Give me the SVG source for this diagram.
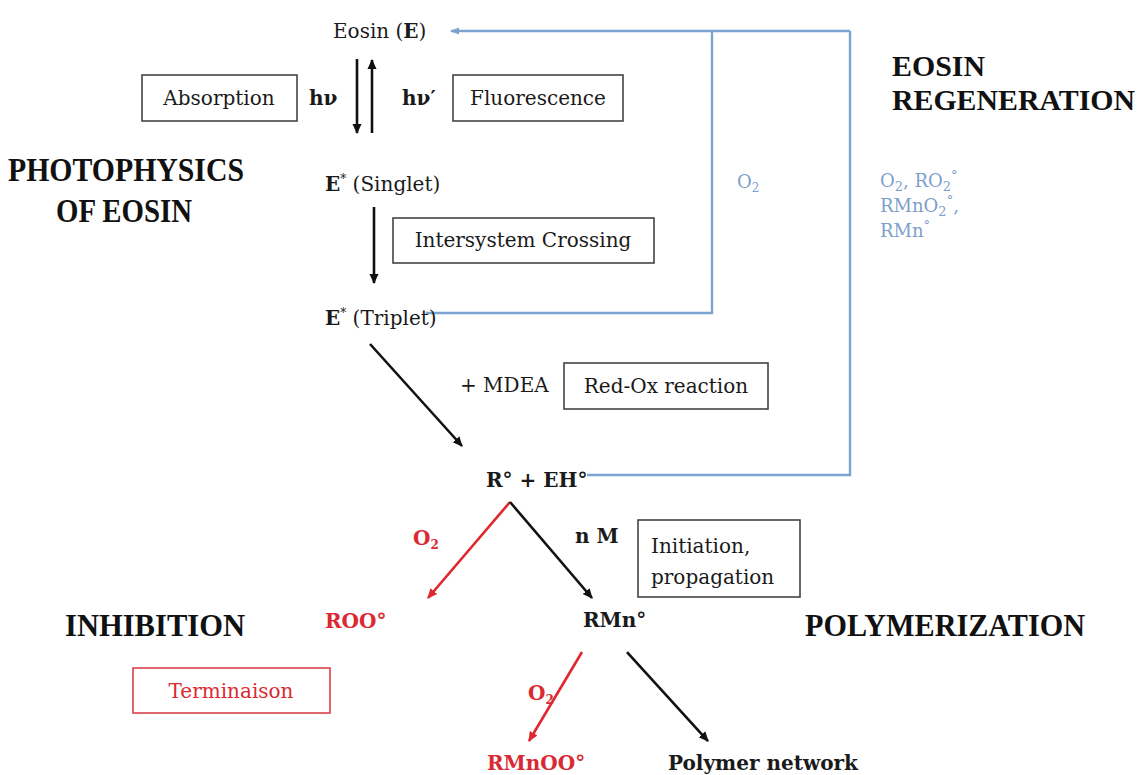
<svg xmlns="http://www.w3.org/2000/svg" width="1139" height="775" viewBox="0 0 1139 775">
<defs>
<style>
.t{font-family:"DejaVu Serif","Liberation Serif",serif;font-size:20px;fill:#1a1a1a}
.b{font-weight:bold}
.h{font-family:"Liberation Serif","DejaVu Serif",serif;font-weight:bold;fill:#111}
.blu{fill:#7d9fcc;font-size:18px}
.red{fill:#d92a33}
.box{fill:none;stroke:#444;stroke-width:1.6}
.rbox{fill:none;stroke:#d9424a;stroke-width:1.6}
.k{stroke:#111;stroke-width:2.6;fill:none}
.r{stroke:#e0262f;stroke-width:2.6;fill:none}
.bl{stroke:#7aa3cf;stroke-width:2.4;fill:none}
</style>
<marker id="ak" markerWidth="12" markerHeight="12" refX="9" refY="5.5" orient="auto" markerUnits="userSpaceOnUse"><path d="M0,1 L10,5.5 L0,10 Z" fill="#111"/></marker>
<marker id="ar" markerWidth="12" markerHeight="12" refX="9" refY="5.5" orient="auto" markerUnits="userSpaceOnUse"><path d="M0,1 L10,5.5 L0,10 Z" fill="#e0262f"/></marker>
<marker id="ab" markerWidth="10" markerHeight="10" refX="8" refY="5" orient="auto" markerUnits="userSpaceOnUse"><path d="M0,1.5 L9,5 L0,8.5 Z" fill="#7aa3cf"/></marker>
</defs>
<rect width="1139" height="775" fill="#fff"/>

<g id="connectors">
<path class="bl" d="M850,31 L451,31" marker-end="url(#ab)"/>
<path class="bl" d="M426,313 L712,313 L712,31"/>
<path class="bl" d="M587,475 L850,475 L850,31"/>
<path class="k" d="M357,59 L357,133" marker-end="url(#ak)"/>
<path class="k" d="M372,133 L372,60" marker-end="url(#ak)"/>
<path class="k" d="M374,207 L374,283" marker-end="url(#ak)"/>
<path class="k" d="M370,344 L462,446" marker-end="url(#ak)"/>
<path class="r" d="M510,502 L428,598" marker-end="url(#ar)"/>
<path class="k" d="M510,502 L592,598" marker-end="url(#ak)"/>
<path class="r" d="M582,652 L529,741" marker-end="url(#ar)"/>
<path class="k" d="M627,652 L708,741" marker-end="url(#ak)"/>
</g>

<g id="eosin"><text class="t" x="333" y="38" font-size="21">Eosin (<tspan class="b">E</tspan>)</text></g>
<g id="absorption"><rect class="box" x="142" y="75" width="155" height="46"/><text class="t" x="219" y="105" text-anchor="middle">Absorption</text></g>
<g id="hv"><text class="t b" x="309" y="105">hν</text></g>
<g id="hv2"><text class="t b" x="402" y="105">hν′</text></g>
<g id="fluorescence"><rect class="box" x="453" y="75" width="170" height="46"/><text class="t" x="538" y="105" text-anchor="middle">Fluorescence</text></g>
<g id="photophysics"><text class="h" x="126" y="181" font-size="34" text-anchor="middle" textLength="236" lengthAdjust="spacingAndGlyphs">PHOTOPHYSICS</text><text class="h" x="124" y="222" font-size="34" text-anchor="middle" textLength="136" lengthAdjust="spacingAndGlyphs">OF EOSIN</text></g>
<g id="singlet"><text class="t" x="325" y="191"><tspan class="b">E</tspan><tspan font-size="12" dy="-8">*</tspan><tspan dy="8"> (Singlet)</tspan></text></g>
<g id="isc"><rect class="box" x="393" y="218" width="261" height="45"/><text class="t" x="523" y="247" text-anchor="middle">Intersystem Crossing</text></g>
<g id="triplet"><text class="t" x="325" y="325"><tspan class="b">E</tspan><tspan font-size="12" dy="-8">*</tspan><tspan dy="8"> (Triplet)</tspan></text></g>
<g id="o2-inner"><text class="t blu" x="737" y="188">O<tspan font-size="12" dy="4">2</tspan></text></g>
<g id="regen-label"><text class="h" x="892" y="76" font-size="30" textLength="93" lengthAdjust="spacingAndGlyphs">EOSIN</text><text class="h" x="892" y="110" font-size="30" textLength="243" lengthAdjust="spacingAndGlyphs">REGENERATION</text></g>
<g id="o2-outer"><text class="t blu" x="880" y="187">O<tspan font-size="13" dy="4">2</tspan><tspan dy="-4">, RO</tspan><tspan font-size="13" dy="4">2</tspan><tspan font-size="13" dy="-11">°</tspan></text><text class="t blu" x="880" y="212">RMnO<tspan font-size="13" dy="4">2</tspan><tspan font-size="13" dy="-11">°</tspan><tspan dy="7">,</tspan></text><text class="t blu" x="880" y="237">RMn<tspan font-size="13" dy="-7">°</tspan></text></g>
<g id="mdea"><text class="t" x="460" y="392">+ MDEA</text></g>
<g id="redox"><rect class="box" x="564" y="363" width="204" height="46"/><text class="t" x="666" y="393" text-anchor="middle">Red-Ox reaction</text></g>
<g id="radicals"><text class="t b" x="486" y="487" font-size="18">R° + EH°</text></g>
<g id="o2-red1"><text class="t b red" x="413" y="545" font-size="18">O<tspan font-size="12" dy="4">2</tspan></text></g>
<g id="nm"><text class="t b" x="575" y="543" font-size="18">n M</text></g>
<g id="initiation"><rect class="box" x="638" y="520" width="162" height="77"/><text class="t" x="651" y="553">Initiation,</text><text class="t" x="651" y="584">propagation</text></g>
<g id="inhibition"><text class="h" x="65" y="636" font-size="32" textLength="180" lengthAdjust="spacingAndGlyphs">INHIBITION</text></g>
<g id="roo"><text class="t b red" x="325" y="628" font-size="17">ROO°</text></g>
<g id="rmn"><text class="t b" x="583" y="627" font-size="18">RMn°</text></g>
<g id="polymerization"><text class="h" x="805" y="636" font-size="32" textLength="280" lengthAdjust="spacingAndGlyphs">POLYMERIZATION</text></g>
<g id="terminaison"><rect class="rbox" x="133" y="668" width="197" height="45"/><text class="t red" x="231" y="698" text-anchor="middle">Terminaison</text></g>
<g id="o2-red2"><text class="t b red" x="528" y="700" font-size="18">O<tspan font-size="12" dy="4">2</tspan></text></g>
<g id="rmnoo"><text class="t b red" x="487" y="770" font-size="18">RMnOO°</text></g>
<g id="polymer"><text class="t b" x="668" y="770" font-size="18">Polymer network</text></g>
</svg>
